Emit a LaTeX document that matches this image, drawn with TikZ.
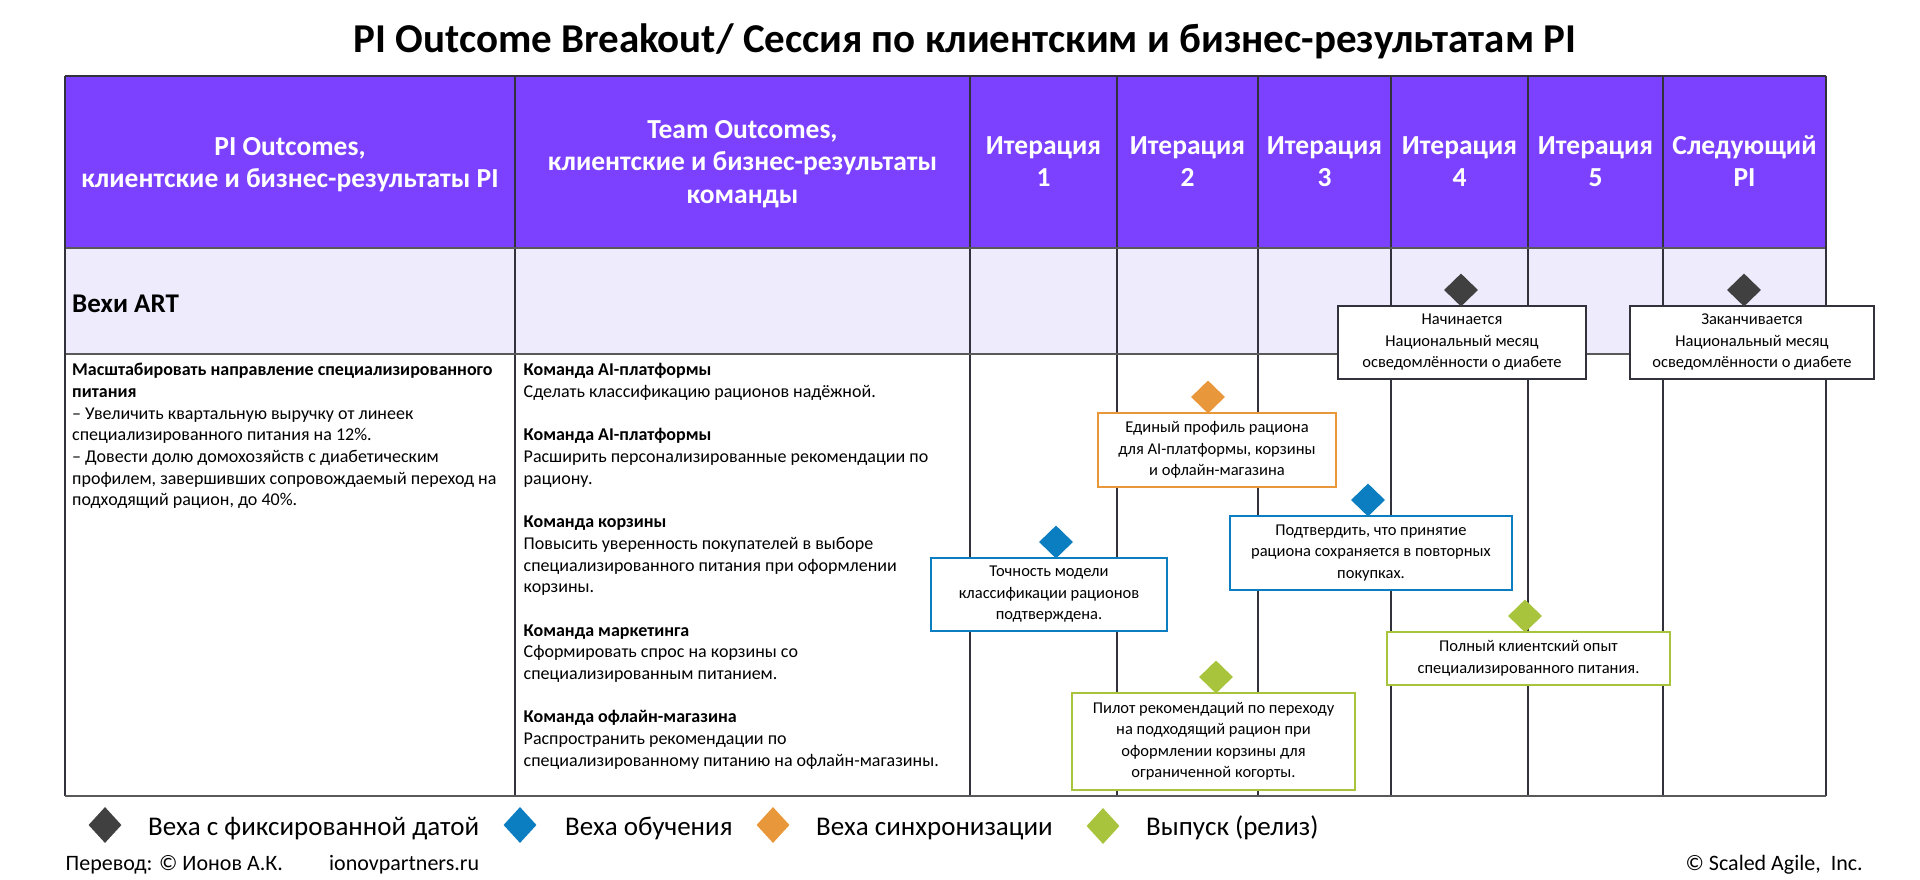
\documentclass[tikz,border=0pt]{standalone}
\usepackage{fontspec}
\setmainfont{Carlito}
\usetikzlibrary{shapes.geometric}
\definecolor{hdr}{RGB}{124,64,255}
\definecolor{artrow}{RGB}{238,235,253}
\definecolor{msorange}{RGB}{232,152,58}
\definecolor{msblue}{RGB}{11,125,193}
\definecolor{msgreen}{RGB}{168,196,60}
\definecolor{msdark}{RGB}{64,64,64}
\definecolor{tline}{RGB}{50,50,60}
\newcommand\fstrut{\rule{0pt}{16pt}}
\newcommand\hstrut{\rule{0pt}{20pt}}
\tikzset{
  tabline/.style={draw=tline, line width=1.3pt},
  hline/.style={draw=black!65, line width=2pt},
  dia/.style={diamond, inner sep=0pt, minimum width=34pt, minimum height=33pt},
  legdia/.style={diamond, inner sep=0pt, minimum width=33pt, minimum height=36pt},
  mbox/.style={draw, line width=2pt, fill=white, align=center, inner sep=0pt,
    font=\fontsize{16.5}{21.5}\selectfont},
  hdrtxt/.style={text=white, font=\bfseries\fontsize{27.5}{32.5}\selectfont, align=center, anchor=north, inner sep=0pt},
  bodytxt/.style={font=\fontsize{18}{21.7}\selectfont, align=left, anchor=north west, inner sep=0pt},
  legtxt/.style={font=\fontsize{27}{30}\selectfont, anchor=base west, inner sep=0pt},
  foot/.style={font=\fontsize{22}{24}\selectfont, anchor=base west, inner sep=0pt},
}
\begin{document}
\begin{tikzpicture}[x=1pt,y=-1pt]
\useasboundingbox[fill=white] (0,0) rectangle (1920,880);
% title
\node[font=\bfseries\fontsize{41}{44}\selectfont, anchor=base, inner sep=0pt] (title) at (965,53)
  {PI Outcome Breakout/ Сессия по клиентским и бизнес-результатам PI};
% table fills
\fill[hdr] (65,76) rectangle (1826,248);
\fill[artrow] (65,248) rectangle (1826,354);
% vertical lines
\foreach \xx in {515,970,1117,1258,1391,1528,1663}
  \draw[tabline] (\xx,76) -- (\xx,796);
\draw[hline] (65,248) -- (1826,248);
\draw[hline] (65,354) -- (1826,354);
\draw[tabline] (65,76) -- (1826,76);
\draw[tabline] (65,76) -- (65,796);
\draw[tabline] (1826,76) -- (1826,796);
\draw[hline] (65,796) -- (1826,796);
% header texts
\node[hdrtxt] (h1) at (290,135) {\hstrut PI Outcomes,\\клиентские и бизнес-результаты PI};
\node[hdrtxt] (h2) at (742.5,118) {\hstrut Team Outcomes,\\клиентские и бизнес-результаты\\команды};
\node[hdrtxt] (h3) at (1043.5,134) {\hstrut Итерация\\1};
\node[hdrtxt] (h4) at (1187.5,134) {\hstrut Итерация\\2};
\node[hdrtxt] (h5) at (1324.5,134) {\hstrut Итерация\\3};
\node[hdrtxt] (h6) at (1459.5,134) {\hstrut Итерация\\4};
\node[hdrtxt] (h7) at (1595.5,134) {\hstrut Итерация\\5};
\node[hdrtxt] (h8) at (1744.5,134) {\hstrut Следующий\\PI};
% ART row
\node[font=\bfseries\fontsize{27}{30}\selectfont, anchor=base west, inner sep=0pt] (art) at (72,312) {Вехи ART};
% body texts
\node[bodytxt] (c1) at (72,359.5) {\fstrut\textbf{Масштабировать направление специализированного}\\
\textbf{питания}\\
– Увеличить квартальную выручку от линеек\\
специализированного питания на 12\%.\\
– Довести долю домохозяйств с диабетическим\\
профилем, завершивших сопровождаемый переход на\\
подходящий рацион, до 40\%.};
\node[bodytxt] (c2) at (523.5,359.5) {\fstrut\textbf{Команда AI-платформы}\\
Сделать классификацию рационов надёжной.\\[21.7pt]
\textbf{Команда AI-платформы}\\
Расширить персонализированные рекомендации по\\
рациону.\\[21.7pt]
\textbf{Команда корзины}\\
Повысить уверенность покупателей в выборе\\
специализированного питания при оформлении\\
корзины.\\[21.7pt]
\textbf{Команда маркетинга}\\
Сформировать спрос на корзины со\\
специализированным питанием.\\[21.7pt]
\textbf{Команда офлайн-магазина}\\
Распространить рекомендации по\\
специализированному питанию на офлайн-магазины.};
% milestone boxes
\node[mbox, draw=tline, minimum width=248pt, minimum height=73pt] (bA) at (1462,342.5)
  {Начинается\\Национальный месяц\\осведомлённости о диабете};
\node[mbox, draw=tline, minimum width=244pt, minimum height=73pt] (bB) at (1752,342.5)
  {Заканчивается\\Национальный месяц\\осведомлённости о диабете};
\node[mbox, draw=msorange, minimum width=238pt, minimum height=74pt] (bO) at (1217,450)
  {Единый профиль рациона\\для AI-платформы, корзины\\и офлайн-магазина};
\node[mbox, draw=msblue, minimum width=236pt, minimum height=73pt] (bL1) at (1049,594.5)
  {Точность модели\\классификации рационов\\подтверждена.};
\node[mbox, draw=msblue, minimum width=282pt, minimum height=74pt] (bL2) at (1371,553)
  {Подтвердить, что принятие\\рациона сохраняется в повторных\\покупках.};
\node[mbox, draw=msgreen, minimum width=283pt, minimum height=53pt] (bR1) at (1528.5,658.5)
  {Полный клиентский опыт\\специализированного питания.};
\node[mbox, draw=msgreen, minimum width=283pt, minimum height=97pt] (bR2) at (1213.5,741.5)
  {Пилот рекомендаций по переходу\\на подходящий рацион при\\оформлении корзины для\\ограниченной когорты.};
% diamonds
\node[dia, fill=msdark] (dA) at (1461,290) {};
\node[dia, fill=msdark] (dB) at (1744,290) {};
\node[dia, fill=msorange] (dO) at (1208,397) {};
\node[dia, fill=msblue] (dL1) at (1056,542) {};
\node[dia, fill=msblue] (dL2) at (1368,500) {};
\node[dia, fill=msgreen] (dR1) at (1525,616) {};
\node[dia, fill=msgreen] (dR2) at (1216,677) {};
% legend
\node[legdia, fill=msdark] (lg1) at (105,825) {};
\node[legtxt] (lt1) at (148,835) {Веха с фиксированной датой};
\node[legdia, fill=msblue] (lg2) at (520,825) {};
\node[legtxt] (lt2) at (565,835) {Веха обучения};
\node[legdia, fill=msorange] (lg3) at (773,825) {};
\node[legtxt] (lt3) at (816,835) {Веха синхронизации};
\node[legdia, fill=msgreen] (lg4) at (1103,826) {};
\node[legtxt] (lt4) at (1146,835) {Выпуск (релиз)};
% footer
\node[foot] (f1) at (65.5,870) {Перевод: © Ионов А.К.};
\node[foot] (f2) at (329,870) {ionovpartners.ru};
\node[foot, anchor=base east] (f3) at (1863,870) {© Scaled Agile,\ \ Inc.};
\end{tikzpicture}
\end{document}
